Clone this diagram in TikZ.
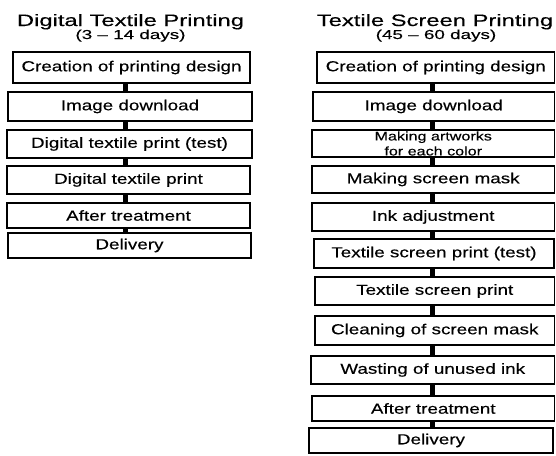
\documentclass[tikz,border=0pt]{standalone}
\usepackage{fontspec}
\setmainfont{Liberation Sans}[FakeStretch=1.3,FakeBold=0.3]
\newfontfamily\ttlfont{Liberation Sans}[FakeStretch=1.44,FakeBold=0.3,Ligatures=TeX]
\newfontfamily\subfont{Liberation Sans}[FakeStretch=1.45,FakeBold=0.3,Ligatures=TeX]
\begin{document}
\begin{tikzpicture}[x=1pt,y=-1pt,
  bx/.style={draw=black,line width=1.3pt,inner sep=0pt,align=center,font=\fontsize{14.5}{17}\selectfont},
  conn/.style={line width=5pt,black},
  ttl/.style={anchor=base,inner sep=0pt,font=\ttlfont\fontsize{16.5}{19}\selectfont},
  sub/.style={anchor=base,inner sep=0pt,font=\subfont\fontsize{13}{15}\selectfont}]
\useasboundingbox (0,0) rectangle (556,455);
% titles
\node[ttl] (tl) at (130.5,26) {Digital Textile Printing};
\node[sub] (sl) at (130.5,39) {(3 – 14 days)};
\node[ttl] (tr) at (435,26) {Textile Screen Printing};
\node[sub] (sr) at (436,39) {(45 – 60 days)};
% left column
\coordinate (lx) at (125.5,0);
\node[bx,minimum width=237pt,minimum height=31pt] (L1) at (131.5,67.5) {Creation of printing design};
\node[bx,minimum width=244pt,minimum height=29pt] (L2) at (130,106.5) {Image download};
\node[bx,minimum width=245pt,minimum height=28pt] (L3) at (129.5,144) {Digital textile print (test)};
\node[bx,minimum width=243pt,minimum height=28pt] (L4) at (128.5,180) {Digital textile print};
\node[bx,minimum width=243pt,minimum height=25pt] (L5) at (128.5,215.5) {After treatment};
\node[bx,minimum width=243pt,minimum height=25pt] (L6) at (129.5,245.5) {Delivery};
\foreach \a/\b in {L1/L2,L2/L3,L3/L4,L4/L5,L5/L6}
  \draw[conn] (\a.south -| lx) -- (\b.north -| lx);
% right column
\coordinate (rx) at (432,0);
\node[bx,minimum width=237.5pt,minimum height=31pt] (R1) at (435.75,67.5) {Creation of printing design};
\node[bx,minimum width=241.5pt,minimum height=29pt] (R2) at (433.75,106.5) {Image download};
\node[bx,minimum width=242.5pt,minimum height=27pt,font=\fontsize{12.4}{15}\selectfont] (R3) at (433.25,143.5) {Making artworks\\for each color};
\node[bx,minimum width=242.5pt,minimum height=27pt] (R4) at (433.25,179.5) {Making screen mask};
\node[bx,minimum width=242.5pt,minimum height=28pt] (R5) at (433.25,217) {Ink adjustment};
\node[bx,minimum width=240pt,minimum height=29pt] (R6) at (434,253.5) {Textile screen print (test)};
\node[bx,minimum width=239.5pt,minimum height=28pt] (R7) at (434.75,291) {Textile screen print};
\node[bx,minimum width=239.5pt,minimum height=29pt] (R8) at (434.75,330.5) {Cleaning of screen mask};
\node[bx,minimum width=243.5pt,minimum height=28pt] (R9) at (432.75,370) {Wasting of unused ink};
\node[bx,minimum width=242.5pt,minimum height=25pt] (R10) at (433.25,408.5) {After treatment};
\node[bx,minimum width=244pt,minimum height=25pt] (R11) at (431,440.5) {Delivery};
\foreach \a/\b in {R1/R2,R2/R3,R3/R4,R4/R5,R5/R6,R6/R7,R7/R8,R8/R9,R9/R10,R10/R11}
  \draw[conn] (\a.south -| rx) -- (\b.north -| rx);
\end{tikzpicture}
\end{document}
